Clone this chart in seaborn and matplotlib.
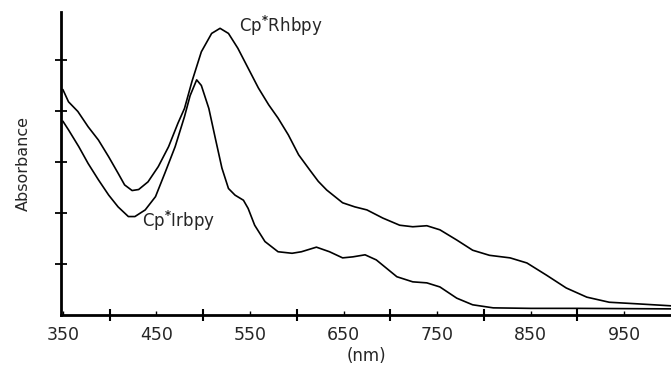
import numpy as np
import pandas as pd
import matplotlib
matplotlib.use("Agg")
import matplotlib.pyplot as plt
import seaborn as sns

# Cp*Rhbpy spectrum (nm, absorbance in tick units)
rh_nm = [350, 356, 366, 377, 388, 399, 409, 416, 424, 431, 441, 452, 463, 473,
         480, 488, 498, 509, 518, 527, 537, 548, 559, 570, 580, 591, 602, 614,
         623, 632, 649, 662, 675, 692, 710, 724, 739, 753, 771, 788, 806, 828,
         846, 867, 888, 910, 934, 963, 1000]
rh_abs = [4.42, 4.18, 3.99, 3.69, 3.43, 3.10, 2.78, 2.55, 2.44, 2.46, 2.61,
          2.91, 3.30, 3.76, 4.05, 4.58, 5.16, 5.52, 5.62, 5.52, 5.23, 4.84,
          4.45, 4.12, 3.86, 3.53, 3.14, 2.84, 2.62, 2.45, 2.20, 2.12, 2.06,
          1.90, 1.76, 1.73, 1.75, 1.67, 1.47, 1.27, 1.17, 1.12, 1.02, 0.78,
          0.53, 0.35, 0.25, 0.22, 0.18]

# Cp*Irbpy spectrum
ir_nm = [350, 356, 367, 377, 388, 399, 409, 420, 427, 438, 449, 459, 470, 480,
         486, 493, 498, 506, 513, 520, 527, 534, 543, 548, 555, 566, 580, 595,
         605, 621, 635, 649, 660, 673, 685, 697, 707, 724, 739, 753, 771, 788,
         810, 850, 900, 1000]
ir_abs = [3.80, 3.63, 3.30, 2.97, 2.65, 2.35, 2.12, 1.93, 1.93, 2.06, 2.32,
          2.78, 3.30, 3.89, 4.30, 4.61, 4.50, 4.05, 3.46, 2.88, 2.48, 2.35,
          2.25, 2.09, 1.76, 1.44, 1.24, 1.21, 1.24, 1.33, 1.24, 1.12, 1.14,
          1.18, 1.08, 0.90, 0.75, 0.65, 0.63, 0.55, 0.33, 0.20, 0.14, 0.13,
          0.13, 0.12]

label_rh = "Cp$^{\\mathbf{*}}$Rhbpy"
label_ir = "Cp$^{\\mathbf{*}}$Irbpy"
xtick_labels = [350, 450, 550, 650, 750, 850, 950]
x_major_ticks = [400, 500, 600, 700, 800, 900]
y_ticks = [1, 2, 3, 4, 5]

df = pd.concat([
    pd.DataFrame({"nm": rh_nm, "abs": rh_abs, "complex": "Rh"}),
    pd.DataFrame({"nm": ir_nm, "abs": ir_abs, "complex": "Ir"}),
])

sns.set_theme(style="ticks")
plt.rcParams["font.family"] = ["DejaVu Sans"]
plt.rcParams["mathtext.default"] = "regular"

fig = plt.figure(figsize=(6.71, 3.69), dpi=100)
ax = fig.add_axes([61 / 671, 54 / 369, 610 / 671, 303 / 369])

sns.lineplot(data=df, x="nm", y="abs", hue="complex",
             palette={"Rh": "black", "Ir": "black"}, linewidth=1.2,
             legend=False, ax=ax, sort=True, estimator=None)
for line in ax.get_lines():
    line.set_solid_joinstyle("round")

ax.set_xlim(348, 1000)
ax.set_ylim(0, 5.94)

ax.set_xticks(xtick_labels)
ax.set_xticklabels([str(v) for v in xtick_labels], fontsize=12.5)
ax.set_xticks(x_major_ticks, minor=True)
ax.tick_params(axis="x", which="major", direction="in", length=3, width=1,
               pad=8, color="black")
ax.tick_params(axis="x", which="minor", direction="inout", length=8, width=1.5,
               color="black")

ax.set_yticks(y_ticks)
ax.set_yticklabels([])
ax.tick_params(axis="y", which="major", direction="inout", length=9, width=1.3,
               color="black")

for side in ["top", "right"]:
    ax.spines[side].set_visible(False)
for side in ["left", "bottom"]:
    ax.spines[side].set_linewidth(2)
    ax.spines[side].set_color("black")

ax.set_xlabel("(nm)", fontsize=12, labelpad=2)
ax.set_ylabel("Absorbance", fontsize=11.5, labelpad=14)

ax.text(538, 5.66, label_rh, fontsize=12, ha="left", va="center")
ax.text(435, 1.85, label_ir, fontsize=12, ha="left", va="center")

fig.savefig("out.png", dpi=100, facecolor="white")
